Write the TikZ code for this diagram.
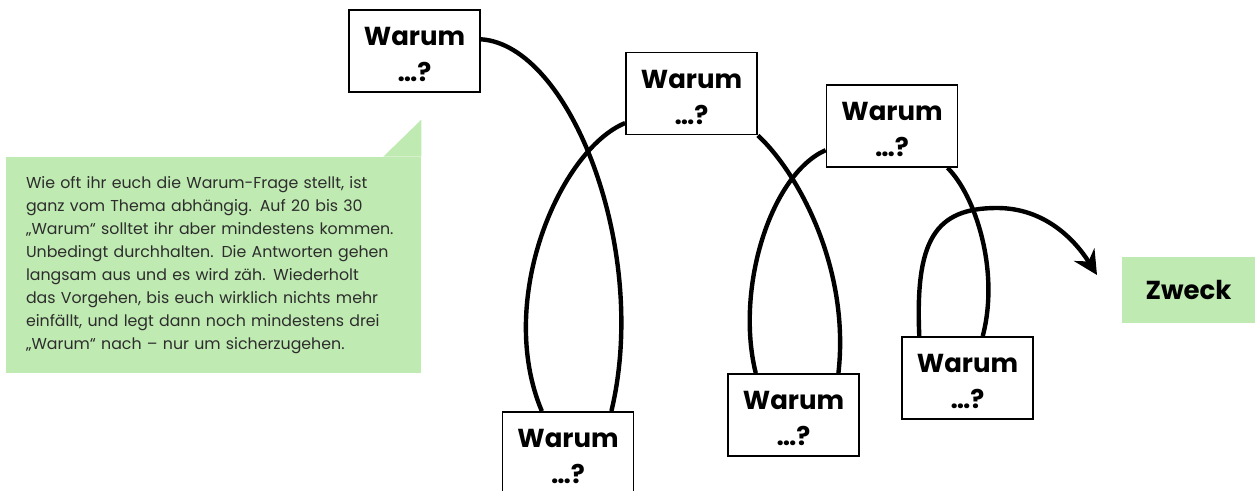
\documentclass[tikz,border=0pt]{standalone}
\usepackage{fontspec}
\setmainfont{Poppins}
\usetikzlibrary{positioning, arrows.meta}
\definecolor{notegreen}{RGB}{191,234,177}
\definecolor{notetext}{RGB}{45,45,45}
\newcommand{\wtext}{\rule{0pt}{13pt}Warum\\…?}
\tikzset{
  warum/.style={rectangle, draw, line width=0.9pt, fill=white, minimum width=65.5pt, minimum height=41pt, inner sep=0pt, align=center, font=\fontsize{13}{18}\selectfont\bfseries},
  bogen/.style={line width=2.2pt},
  note/.style={fill=notegreen, minimum width=207.5pt, minimum height=108pt, text width=187.5pt, inner xsep=10pt, align=left, text=notetext, font=\fontsize{7.9}{11.5}\selectfont},
}
\begin{document}
\begin{tikzpicture}[x=0.5pt, y=-0.5pt]
    \useasboundingbox (0,0) rectangle (1255,491);

    \node[note] (note) at (213.5,265) {Wie oft ihr euch die Warum-Frage stellt, ist\\ ganz vom Thema abhängig. Auf 20 bis 30\\ „Warum“ solltet ihr aber mindestens kommen.\\ Unbedingt durchhalten. Die Antworten gehen\\ langsam aus und es wird zäh. Wiederholt\\ das Vorgehen, bis euch wirklich nichts mehr\\ einfällt, und legt dann noch mindestens drei\\ „Warum“ nach – nur um sicherzugehen.};
    \fill[notegreen] (note.north east) -- ++(-38,0) -- ++(38,-37) -- cycle;

    \node[warum] (q1) at (414.5,51) {\wtext};
    \node[warum] (q2) at (691.5,93.5) {\wtext};
    \node[warum] (q3) at (892,126) {\wtext};
    \node[warum] (q4) at (568,453) {\wtext};
    \node[warum] (q5) at (793.5,415) {\wtext};
    \node[warum] (q6) at (967.5,378) {\wtext};
    \node[fill=notegreen, minimum width=66.5pt, minimum height=33pt, font=\fontsize{13}{18}\selectfont\bfseries] (zweck) at (1188.5,290) {Zweck};
    \coordinate (goal) at (1097,275);

    \draw[bogen] (q1.10) .. controls (570,45) and (650,250) .. (q4.44);
    \draw[bogen] (q2.204) .. controls (560,150) and (495,300) .. (q4.122);
    \draw[bogen] (q2.south east) .. controls (800,175) and (850,270) .. (q5.43);
    \draw[bogen] (q3.200) .. controls (770,175) and (735,290) .. (q5.132);
    \draw[bogen] (q3.-37) .. controls (975,195) and (1000,270) .. (q6.70);
    \draw[bogen, -{Stealth[length=12pt, width=12pt, inset=4pt]}] (q6.139) .. controls (915,240) and (935,208) .. (997,208) .. controls (1045,208) and (1075,240) .. (goal);
\end{tikzpicture}
\end{document}
